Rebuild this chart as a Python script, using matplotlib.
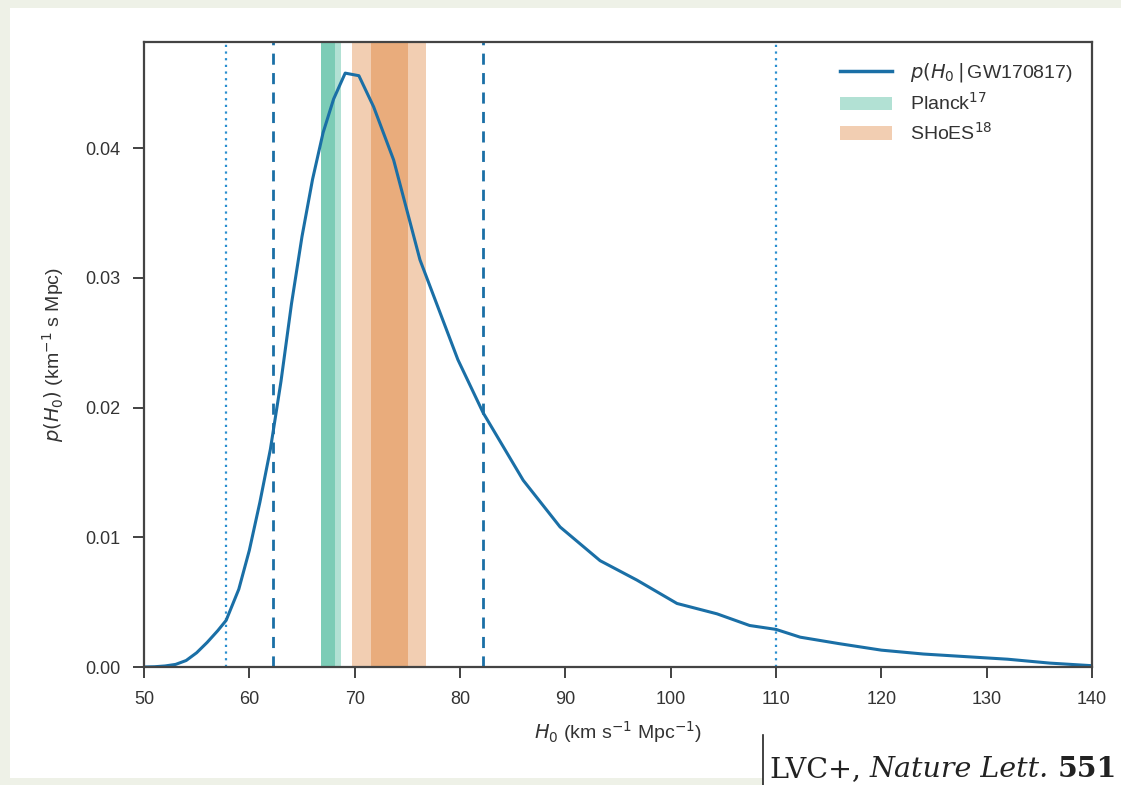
"""Posterior on H0 from GW170817 with Planck and SHoES bands."""

import matplotlib
matplotlib.use("Agg")
import matplotlib.pyplot as plt
from matplotlib.patches import Patch, Rectangle
from matplotlib.lines import Line2D

# posterior curve
h0 = [50, 51, 52, 53, 54, 55, 56, 57, 57.8, 59, 60, 61, 62, 63, 64, 65, 66, 67,
      68, 69.1, 70.4, 71.8, 73.7, 76.2, 79.8, 82.2, 86, 89.5, 93.3, 96.8, 100.6,
      104.4, 107.5, 110, 112.3, 116, 120, 124, 128, 132, 136, 140]
p_h0 = [0.0, 0.00002, 0.00008, 0.0002, 0.0005, 0.0011, 0.0019, 0.0028, 0.0036,
        0.0060, 0.0090, 0.0127, 0.0168, 0.0220, 0.0280, 0.0332, 0.0376, 0.0412,
        0.0438, 0.0458, 0.0456, 0.0432, 0.0391, 0.0314, 0.0237, 0.0196, 0.0144,
        0.0108, 0.0082, 0.0067, 0.0049, 0.0041, 0.0032, 0.0029, 0.0023, 0.0018,
        0.0013, 0.0010, 0.0008, 0.0006, 0.0003, 0.0001]

# credible interval markers
dashed_lines = [62.2, 82.2]
dotted_lines = [57.8, 110.0]

# bands: (outer, inner)
planck_bands = [(66.8, 68.75), (66.8, 68.1)]
shoes_bands = [(69.75, 76.75), (71.55, 75.05)]

BLUE = "#1a6fa6"
GREEN = "#029e73"
ORANGE = "#d55e00"
TXT = "#333333"

fig = plt.figure(figsize=(11.21, 7.85), dpi=100)
fig.patch.set_facecolor("#eef1e7")
fig.patches.append(Rectangle((10 / 1121, 1 - 778 / 785), 1111 / 1121, 770 / 785,
                             transform=fig.transFigure, facecolor="white",
                             edgecolor="none", zorder=-10))
fig.patches.append(Rectangle((763 / 1121, 0), 358 / 1121, 50 / 785,
                             transform=fig.transFigure, facecolor="white",
                             edgecolor="none", zorder=-10))

plt.rcParams["font.family"] = ["Liberation Sans", "DejaVu Sans"]
plt.rcParams["mathtext.fontset"] = "dejavusans"

ax = fig.add_axes([144 / 1121, 1 - 667 / 785, 948 / 1121, 625 / 785])
ax.set_facecolor("white")

for lo, hi in planck_bands:
    ax.axvspan(lo, hi, color=GREEN, alpha=0.3, lw=0)
for lo, hi in shoes_bands:
    ax.axvspan(lo, hi, color=ORANGE, alpha=0.3, lw=0)

for x in dashed_lines:
    ax.axvline(x, color=BLUE, ls=(0, (4, 3)), lw=2)
for x in dotted_lines:
    ax.axvline(x, color="#2a8fcf", ls=(0, (1, 2)), lw=1.6)

ax.plot(h0, p_h0, color=BLUE, lw=2.2)

ax.set_xlim(50, 140)
ax.set_ylim(0, 0.0482)
ax.set_xticks([50, 60, 70, 80, 90, 100, 110, 120, 130, 140])
ax.set_yticks([0.0, 0.01, 0.02, 0.03, 0.04])
ax.set_yticklabels(["0.00", "0.01", "0.02", "0.03", "0.04"])
ax.tick_params(direction="out", length=8, width=1.3, labelsize=13,
               colors=TXT, pad=9)
for s in ax.spines.values():
    s.set_color("#444444")
    s.set_linewidth(1.6)

ax.set_xlabel(r"$H_0$ (km s$^{-1}$ Mpc$^{-1}$)", fontsize=14, color=TXT,
              labelpad=8)
ax.set_ylabel(r"$p(H_0)$ (km$^{-1}$ s Mpc)", fontsize=14, color=TXT,
              labelpad=14)

handles = [
    Line2D([], [], color=BLUE, lw=2.5),
    Patch(facecolor=GREEN, alpha=0.3, lw=0),
    Patch(facecolor=ORANGE, alpha=0.3, lw=0),
]
labels = [r"$p(H_0\,|\,$GW170817)", r"Planck$^{17}$", r"SHoES$^{18}$"]
ax.legend(handles, labels, loc="upper right", frameon=False, fontsize=14,
          borderaxespad=0.6, handlelength=2.7, labelspacing=0.4,
          handletextpad=0.9, labelcolor=TXT)

# citation at the bottom right
fig.add_artist(Line2D([763 / 1121, 763 / 1121], [0, 50 / 785],
                      transform=fig.transFigure, color="#222222", lw=1.2))
renderer = fig.canvas.get_renderer()
x = 770 / 1121
y = 1 - 777 / 785
for txt, style, weight in [("LVC+, ", "normal", "normal"),
                           ("Nature Lett. ", "italic", "normal"),
                           ("551", "normal", "bold")]:
    t = fig.text(x, y, txt, family="DejaVu Serif", fontsize=20.5, style=style,
                 weight=weight, color="#222222", ha="left", va="baseline")
    bb = t.get_window_extent(renderer)
    x = x + bb.width / fig.bbox.width

fig.savefig("out.png", dpi=100, facecolor=fig.get_facecolor())
